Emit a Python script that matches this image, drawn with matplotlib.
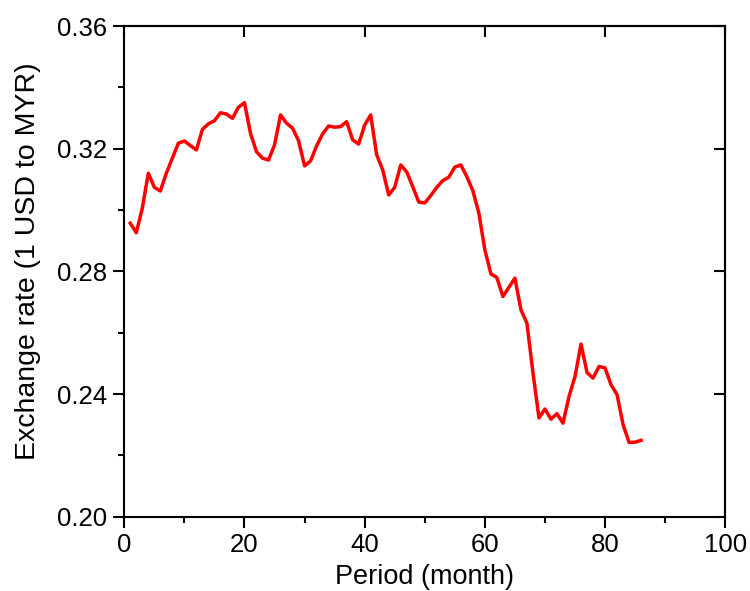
import matplotlib
matplotlib.use("Agg")
import matplotlib.pyplot as plt
import numpy as np
from matplotlib.ticker import MultipleLocator

plt.rcParams['font.family'] = ['Liberation Sans', 'DejaVu Sans']

# monthly exchange rate, 1 USD to MYR
months = np.arange(1, 87)
rate = [
    0.2957, 0.2926, 0.3006, 0.3120, 0.3074, 0.3062, 0.3120, 0.3169, 0.3218, 0.3225,
    0.3210, 0.3196, 0.3263, 0.3281, 0.3291, 0.3317, 0.3313, 0.3299, 0.3335, 0.3350,
    0.3250, 0.3190, 0.3169, 0.3163, 0.3212, 0.3310, 0.3283, 0.3267, 0.3226, 0.3144,
    0.3160, 0.3209, 0.3248, 0.3274, 0.3270, 0.3272, 0.3288, 0.3229, 0.3215, 0.3277,
    0.3310, 0.3180, 0.3131, 0.3049, 0.3074, 0.3147, 0.3124, 0.3076, 0.3026, 0.3023,
    0.3047, 0.3074, 0.3096, 0.3107, 0.3140, 0.3147, 0.3109, 0.3063, 0.2990, 0.2870,
    0.2792, 0.2780, 0.2718, 0.2748, 0.2778, 0.2675, 0.2631, 0.2470, 0.2322, 0.2351,
    0.2318, 0.2336, 0.2305, 0.2392, 0.2457, 0.2563, 0.2470, 0.2452, 0.2490, 0.2485,
    0.2430, 0.2398, 0.2300, 0.2242, 0.2243, 0.2249,
]

fig = plt.figure(figsize=(7.5, 5.91), dpi=100)
ax = fig.add_axes([0.1657, 0.1257, 0.967 - 0.1657, 0.956 - 0.1257])

ax.plot(months, rate, color='#ff0000', linewidth=2.5)

ax.set_xlim(0, 100)
ax.set_ylim(0.20, 0.36)
ax.xaxis.set_major_locator(MultipleLocator(20))
ax.xaxis.set_minor_locator(MultipleLocator(10))
ax.yaxis.set_major_locator(MultipleLocator(0.04))
ax.yaxis.set_minor_locator(MultipleLocator(0.02))
ax.set_yticklabels([f"{v:.2f}" for v in ax.get_yticks()])

for s in ax.spines.values():
    s.set_linewidth(1.5)

ax.tick_params(which='major', direction='out', length=8, width=1.5,
               labelsize=18.5, pad=4)
ax.tick_params(which='minor', direction='out', length=4, width=1.5)

# top and right: inward major ticks only, no labels
top = ax.secondary_xaxis('top')
top.xaxis.set_major_locator(MultipleLocator(20))
top.tick_params(which='major', direction='in', length=8, width=1.5, labeltop=False)
top.tick_params(which='minor', length=0)
top.spines['top'].set_linewidth(1.5)
right = ax.secondary_yaxis('right')
right.yaxis.set_major_locator(MultipleLocator(0.04))
right.tick_params(which='major', direction='in', length=8, width=1.5, labelright=False)
right.tick_params(which='minor', length=0)
right.spines['right'].set_linewidth(1.5)

ax.set_xlabel('Period (month)', fontsize=19.5, labelpad=5)
ax.set_ylabel('Exchange rate (1 USD to MYR)', fontsize=20.5)
ax.yaxis.set_label_coords(-0.139, 0.521)

fig.savefig('out.png', dpi=100)
